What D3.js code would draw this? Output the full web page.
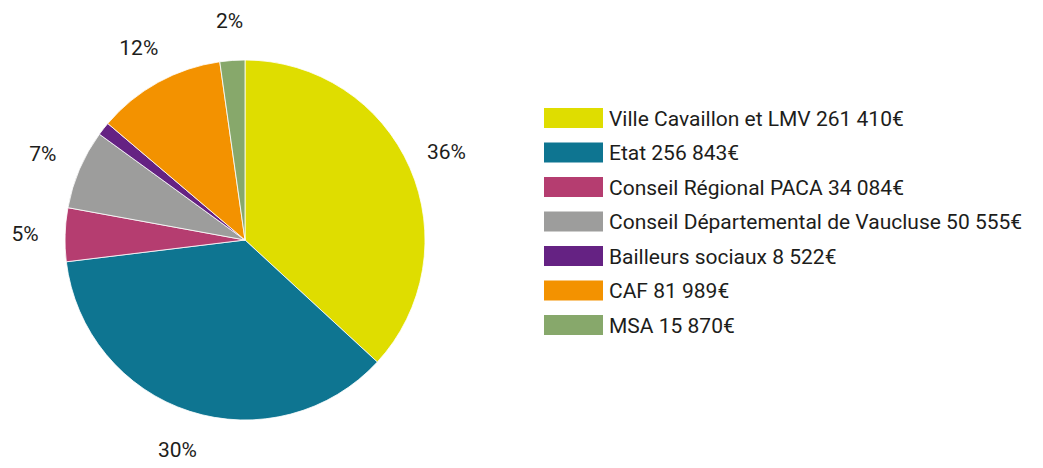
<!DOCTYPE html>
<html>
  <head>
    <script src="https://d3js.org/d3.v7.min.js"></script>
    <style>
      body { margin: 0; background: #fff; }
      text { font-family: "Roboto", sans-serif; fill: #1d1d1b; }
    </style>
  </head>
  <body>
    <div id="chart"></div>
    <script>
      const categories = [
        "Ville Cavaillon et LMV 261 410€",
        "Etat 256 843€",
        "Conseil Régional PACA 34 084€",
        "Conseil Départemental de Vaucluse 50 555€",
        "Bailleurs sociaux 8 522€",
        "CAF 81 989€",
        "MSA 15 870€",
      ];
      const values = [261410, 256843, 34084, 50555, 8522, 81989, 15870];
      const pctLabels = ["36%", "30%", "5%", "7%", "", "12%", "2%"];
      const colors = ["#dfdd00", "#0e7591", "#b53d70", "#9d9d9c", "#652283", "#f39200", "#87a86b"];

      const W = 1043, H = 468;
      const cx = 245, cy = 240, r = 180, labelR = 220;

      const svg = d3.select("#chart").append("svg")
        .attr("width", W).attr("height", H);

      const pie = d3.pie().sort(null).value((d) => d.value);
      const data = categories.map((c, i) => ({ name: c, value: values[i], label: pctLabels[i], color: colors[i] }));
      const arcs = pie(data);

      const arc = d3.arc().innerRadius(0).outerRadius(r);
      const labelArc = d3.arc().innerRadius(labelR).outerRadius(labelR);

      const g = svg.append("g").attr("transform", `translate(${cx},${cy})`);
      g.selectAll("path")
        .data(arcs)
        .enter()
        .append("path")
        .attr("d", arc)
        .attr("fill", (d) => d.data.color)
        .attr("stroke", "#fff")
        .attr("stroke-width", 0.8);

      g.selectAll("text.pct")
        .data(arcs.filter((d) => d.data.label))
        .enter()
        .append("text")
        .attr("class", "pct")
        .attr("transform", (d) => `translate(${labelArc.centroid(d)})`)
        .attr("text-anchor", "middle")
        .attr("dy", "0.35em")
        .style("font-size", "21px")
        .text((d) => d.data.label);

      // legend
      const y = d3.scaleBand().domain(categories).range([108, 108 + 34.5 * categories.length]);
      const leg = svg.append("g").selectAll("g")
        .data(data)
        .enter()
        .append("g")
        .attr("transform", (d) => `translate(544,${y(d.name)})`);
      leg.append("rect")
        .attr("width", 59).attr("height", 20)
        .attr("fill", (d) => d.color);
      leg.append("text")
        .attr("x", 65).attr("y", 10).attr("dy", "0.36em")
        .style("font-size", "21px")
        .text((d) => d.name);
    </script>
  </body>
</html>
